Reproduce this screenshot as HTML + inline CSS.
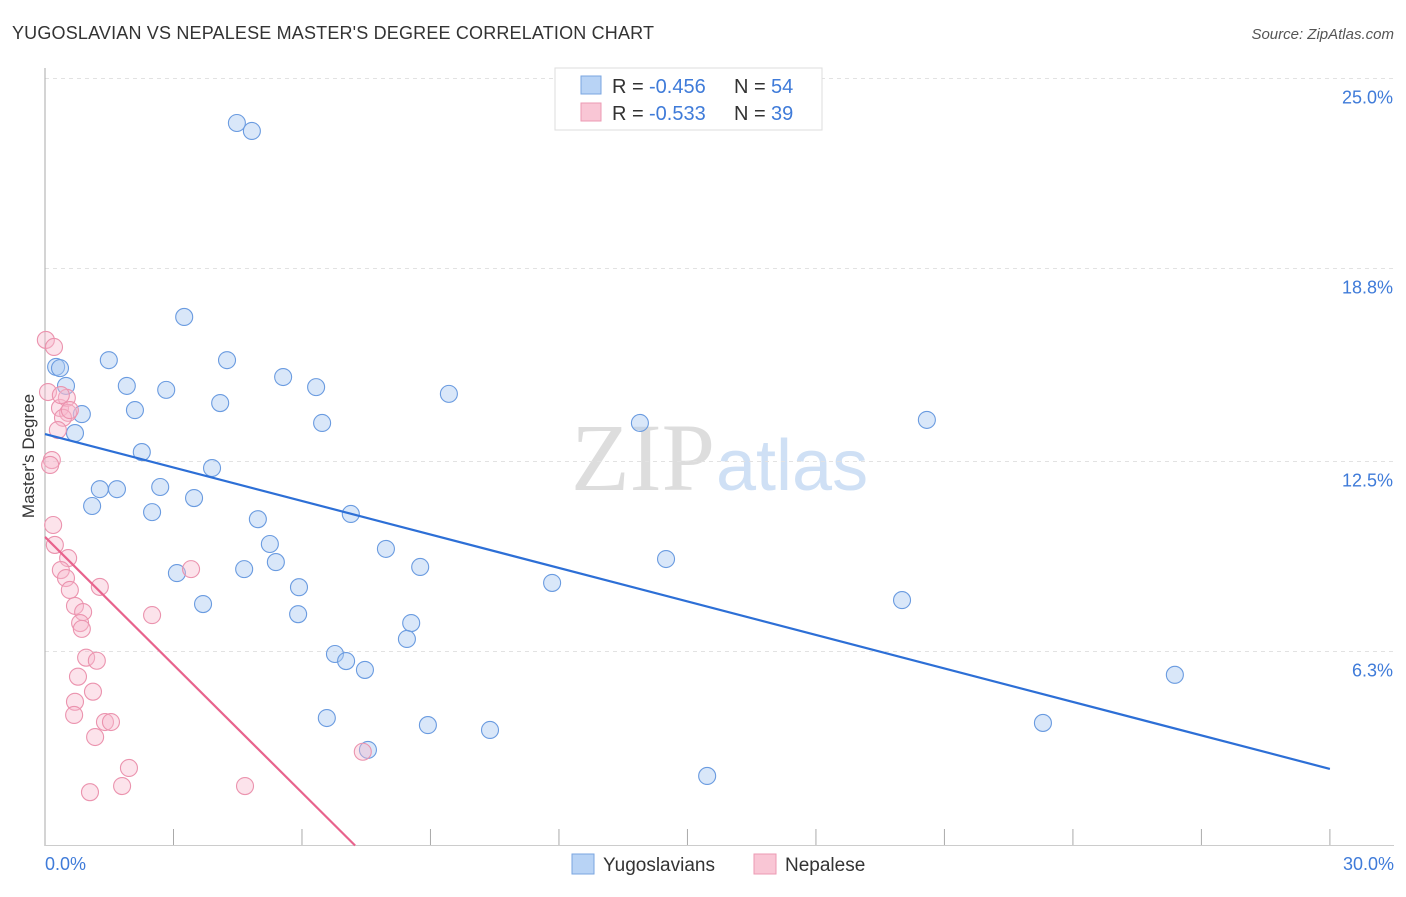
<!DOCTYPE html>
<html><head><meta charset="utf-8"><style>
body{margin:0;background:#fff;font-family:"Liberation Sans",sans-serif}
</style></head><body>
<svg width="1406" height="892" xmlns="http://www.w3.org/2000/svg" font-family="Liberation Sans, sans-serif">
<text x="12" y="39" font-size="18" fill="#333" textLength="642">YUGOSLAVIAN VS NEPALESE MASTER'S DEGREE CORRELATION CHART</text>
<text x="1394" y="39" font-size="15" fill="#555" font-style="italic" text-anchor="end">Source: ZipAtlas.com</text>
<text x="715" y="490" font-size="96" fill="#ddd" text-anchor="end" font-family="Liberation Serif, serif">ZIP</text>
<text x="716" y="490" font-size="72" fill="#cfe0f5">atlas</text>
<g id="grid"></g>
<g id="axes"></g>
<g id="marks"></g>
<text transform="translate(34,456) rotate(-90)" font-size="17" fill="#333" text-anchor="middle">Master's Degree</text>
<g>
<rect x="555" y="68" width="267" height="62" fill="#fff" stroke="#ddd"/>
<rect x="581" y="76" width="20" height="18" fill="#b8d3f5" stroke="#7aa6e0"/>
<text x="612" y="93" font-size="20" fill="#333">R = </text>
<text x="649" y="93" font-size="20" fill="#3f7bd9">-0.456</text>
<text x="734" y="93" font-size="20" fill="#333">N = </text>
<text x="771" y="93" font-size="20" fill="#3f7bd9">54</text>
<rect x="581" y="103" width="20" height="18" fill="#f9c6d5" stroke="#ec9ab3"/>
<text x="612" y="120" font-size="20" fill="#333">R = </text>
<text x="649" y="120" font-size="20" fill="#3f7bd9">-0.533</text>
<text x="734" y="120" font-size="20" fill="#333">N = </text>
<text x="771" y="120" font-size="20" fill="#3f7bd9">39</text>
</g>
<g>
<rect x="572" y="854" width="22" height="20" fill="#b8d3f5" stroke="#7aa6e0"/>
<text x="603" y="871" font-size="19" fill="#333">Yugoslavians</text>
<rect x="754" y="854" width="22" height="20" fill="#f9c6d5" stroke="#ec9ab3"/>
<text x="785" y="871" font-size="19" fill="#333">Nepalese</text>
</g>
</svg>
<script>
const blueX=[0.26,0.35,0.49,0.86,0.70,1.49,1.91,2.10,2.26,2.69,2.83,2.50,1.28,1.68,1.10,3.25,4.25,4.09,3.90,3.48,4.48,4.83,5.56,6.33,6.47,4.97,5.25,5.39,4.65,3.08,3.69,5.93,5.91,7.14,7.96,8.76,9.43,8.55,8.45,6.77,7.03,7.47,6.58,8.94,10.39,7.54,11.84,13.89,14.50,15.46,20.01,20.59,23.30,26.38];
const blueY=[15.62,15.58,15.00,14.08,13.46,15.84,15.00,14.21,12.84,11.70,14.87,10.88,11.63,11.63,11.08,17.25,15.84,14.44,12.32,11.34,23.58,23.32,15.29,14.96,13.79,10.65,9.84,9.25,9.02,8.89,7.88,8.43,7.55,10.82,9.68,9.09,14.74,7.26,6.74,6.25,6.02,5.73,4.16,3.93,3.77,3.12,8.57,13.79,9.35,2.27,8.01,13.89,4.00,5.57];
const pinkX=[0.02,0.21,0.07,0.35,0.51,0.54,0.42,0.30,0.58,0.16,0.12,0.19,0.23,0.54,0.37,0.49,0.58,1.28,0.70,0.89,0.82,0.86,3.41,2.50,0.96,1.21,0.77,1.12,0.70,0.68,1.40,1.54,1.17,1.96,1.80,1.05,4.67,7.42,0.37];
const pinkY=[16.50,16.27,14.80,14.28,14.61,14.12,13.96,13.56,14.21,12.58,12.42,10.46,9.81,9.38,8.99,8.73,8.34,8.44,7.82,7.62,7.26,7.07,9.02,7.52,6.13,6.03,5.51,5.02,4.69,4.26,4.03,4.03,3.54,2.53,1.94,1.74,1.94,3.06,14.70];
const blueTrend=[13.43,2.50];
const pinkTrend=[10.07,0];
const pinkTrendEnd=7.24;
const yTicks=[6.3,12.5,18.8,25.0];
const yTickLabels=["6.3%","12.5%","18.8%","25.0%"];
const xTickLabels=["0.0%","30.0%"];
const NS="http://www.w3.org/2000/svg";
const sx=v=>45+v*42.83, sy=v=>845.5-v*30.64;
function el(t,a,p){const e=document.createElementNS(NS,t);for(const k in a)e.setAttribute(k,a[k]);document.getElementById(p).appendChild(e);return e;}
yTicks.forEach((t,i)=>{
 const g=el('line',{x1:45,x2:1394,y1:sy(t)-1,y2:sy(t)-1,stroke:'#e2e2e2','stroke-dasharray':'4,4'},'grid');
 
 
 const l=el('text',{x:1393,y:sy(t)+24,'font-size':18,fill:'#3f7bd9','text-anchor':'end'},'axes');
 l.textContent=yTickLabels[i];
 
 
});
const ya=el('line',{x1:45,x2:45,y1:68,y2:846,stroke:'#aaa'},'axes');


const xa=el('line',{x1:45,x2:1394,y1:845.5,y2:845.5,stroke:'#ccc'},'axes');


for(let i=0;i<=10;i++){
 const t=el('line',{x1:sx(i*3),x2:sx(i*3),y1:829,y2:845,stroke:'#aaa'},'axes');
 
 
}
[[0,'start',45],[30,'end',1394]].forEach((d,i)=>{
 const l=el('text',{x:d[2],y:870,'font-size':18,fill:'#3f7bd9','text-anchor':d[1]},'axes');
 l.textContent=xTickLabels[i];
 
 
});
blueX.forEach((x,i)=>{
 const c=el('circle',{cx:sx(x),cy:sy(blueY[i]),r:8.5,fill:'rgba(170,202,242,0.45)',stroke:'#6a9be0','stroke-width':1.1},'marks');
 
 
});
pinkX.forEach((x,i)=>{
 const c=el('circle',{cx:sx(x),cy:sy(pinkY[i]),r:8.5,fill:'rgba(247,185,204,0.4)',stroke:'#eb93ae','stroke-width':1.1},'marks');
 
 
});
const bt=el('line',{x1:sx(0),y1:sy(blueTrend[0]),x2:sx(30),y2:sy(blueTrend[1]),stroke:'#2d6fd6','stroke-width':2.2},'marks');


const pt=el('line',{x1:sx(0),y1:sy(pinkTrend[0]),x2:sx(pinkTrendEnd),y2:sy(pinkTrend[1]),stroke:'#e8638d','stroke-width':2.2},'marks');


</script>
</body></html>
